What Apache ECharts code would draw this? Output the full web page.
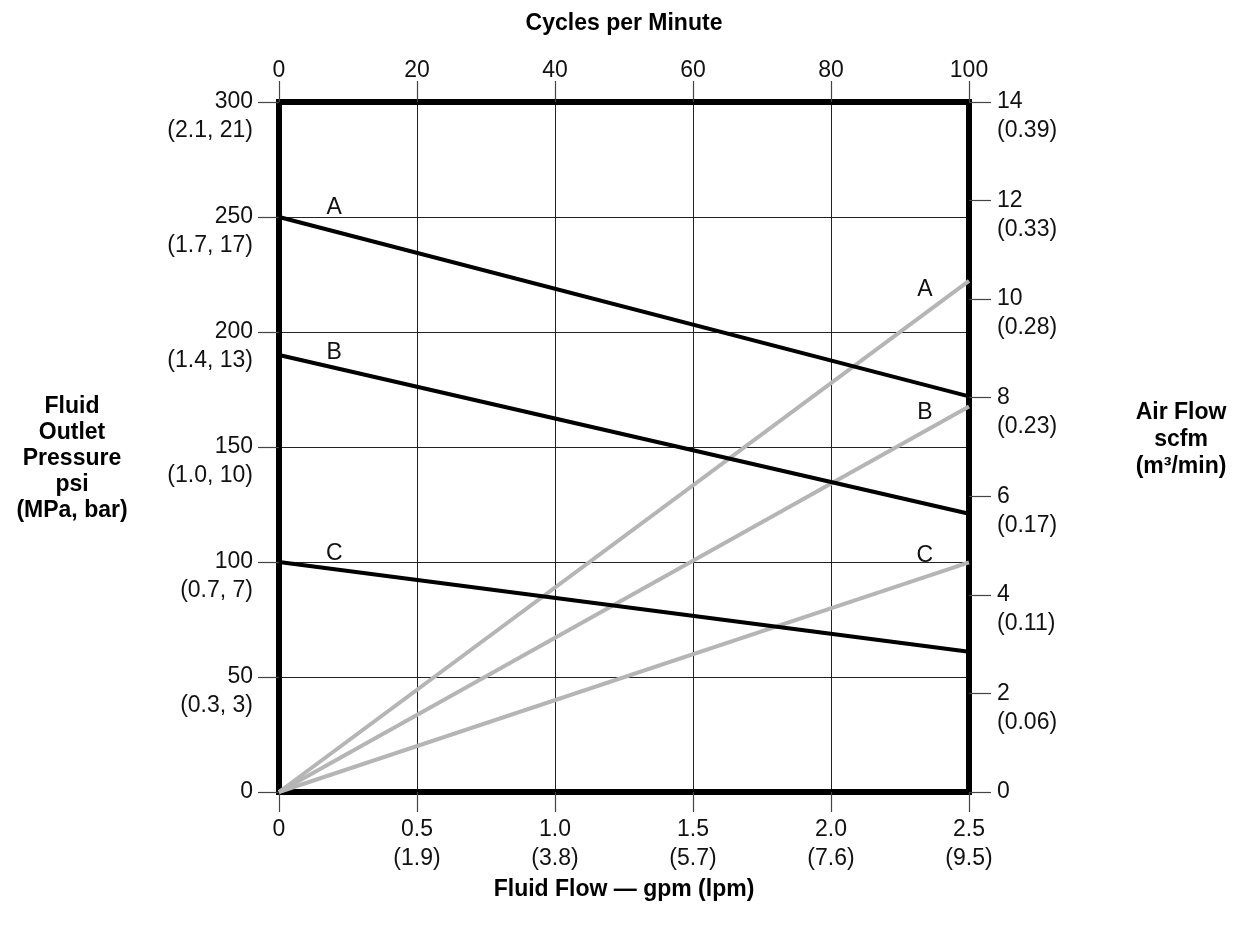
<!DOCTYPE html>
<html>
<head>
<meta charset="utf-8">
<script src="https://cdn.jsdelivr.net/npm/echarts@6/dist/echarts.min.js"></script>
<style>
  html, body { margin: 0; padding: 0; background: #fff; }
  #chart { width: 1241px; height: 929px; }
</style>
</head>
<body>
<div id="chart"></div>
<script>
// bottom axis: fluid flow gpm, metric lpm under it
const gpmTicks = [0, 0.5, 1.0, 1.5, 2.0, 2.5];
const lpmLabels = ['', '(1.9)', '(3.8)', '(5.7)', '(7.6)', '(9.5)'];
// left axis: pressure psi, (MPa, bar) under it
const psiTicks = [0, 50, 100, 150, 200, 250, 300];
const psiMetric = ['', '(0.3, 3)', '(0.7, 7)', '(1.0, 10)', '(1.4, 13)', '(1.7, 17)', '(2.1, 21)'];
// right axis: air flow scfm, m3/min under it
const scfmTicks = [0, 2, 4, 6, 8, 10, 12, 14];
const scfmMetric = ['', '(0.06)', '(0.11)', '(0.17)', '(0.23)', '(0.28)', '(0.33)', '(0.39)'];

// pressure curves (black), [gpm, psi]
const pressA = [[0, 250], [2.5, 172]];
const pressB = [[0, 190], [2.5, 121]];
const pressC = [[0, 100], [2.5, 61]];
// air flow curves (gray), [gpm, scfm]
const airA = [[0, 0], [2.5, 10.37]];
const airB = [[0, 0], [2.5, 7.82]];
const airC = [[0, 0], [2.5, 4.66]];

// curve letters: [name, gpm, value]
const pressLabels = [['A', 0.2, 254], ['B', 0.2, 191], ['C', 0.2, 103.5]];
const airLabels = [['A', 2.34, 10.2], ['B', 2.34, 7.7], ['C', 2.34, 4.8]];

const FONT = "'Liberation Sans', Arial, sans-serif";
let myChart = echarts.init(document.getElementById('chart'));

function tagMarks(list) {
  return {
    symbol: 'circle',
    symbolSize: 0,
    silent: true,
    label: {
      show: true, position: 'inside', formatter: '{b}',
      color: '#111', fontSize: 23, fontFamily: FONT
    },
    data: list.map(d => ({ name: d[0], coord: [d[1], d[2]] }))
  };
}

const frame = { show: true, onZero: false, lineStyle: { color: '#000', width: 6, cap: 'square' } };
const tick = len => ({ show: true, length: len, lineStyle: { color: '#444', width: 1.2 } });
const nameStyle = {
  fontSize: 23, fontWeight: 'bold', color: '#000', fontFamily: FONT,
  align: 'center', verticalAlign: 'middle'
};

myChart.setOption({
  animation: false,
  backgroundColor: '#fff',
  textStyle: { fontFamily: FONT },
  grid: { left: 279, top: 102, width: 690, height: 690 },
  xAxis: [
    {
      type: 'value', position: 'bottom', min: 0, max: 2.5, interval: 0.5,
      axisLine: frame,
      axisTick: tick(20),
      splitLine: { show: true, lineStyle: { color: '#222', width: 1 } },
      axisLabel: {
        margin: 23, color: '#111', fontSize: 23, lineHeight: 29, fontFamily: FONT,
        showMinLabel: true, showMaxLabel: true,
        formatter: v => {
          const i = Math.round(v / 0.5);
          return (v === 0 ? '0' : v.toFixed(1)) + '\n' + (lpmLabels[i] || ' ');
        }
      },
      name: 'Fluid Flow \u2014 gpm (lpm)', nameLocation: 'middle', nameGap: 97,
      nameTextStyle: nameStyle
    },
    {
      type: 'value', position: 'top', min: 0, max: 100, interval: 20,
      axisLine: frame,
      axisTick: tick(21),
      splitLine: { show: false },
      axisLabel: { margin: 20, color: '#111', fontSize: 23, fontFamily: FONT, showMinLabel: true, showMaxLabel: true },
      name: 'Cycles per Minute', nameLocation: 'middle', nameGap: 78,
      nameTextStyle: nameStyle
    }
  ],
  yAxis: [
    {
      type: 'value', position: 'left', min: 0, max: 300, interval: 50,
      axisLine: frame,
      axisTick: tick(21),
      splitLine: { show: true, lineStyle: { color: '#222', width: 1 } },
      axisLabel: {
        margin: 26, color: '#111', fontSize: 23, lineHeight: 29, fontFamily: FONT,
        align: 'right', showMinLabel: true, showMaxLabel: true,
        // blank first line keeps the psi value centred on its tick
        formatter: v => ' \n' + v + '\n' + (psiMetric[Math.round(v / 50)] || ' ')
      },
      name: '{s| }\n{t|Fluid}\n{t|Outlet}\n{t|Pressure}\n{t|psi}\n{t|(MPa, bar)}',
      nameLocation: 'middle', nameGap: 207, nameRotate: 0,
      nameTextStyle: Object.assign({}, nameStyle, {
        rich: { t: { fontSize: 23, fontWeight: 'bold', lineHeight: 26, fontFamily: FONT }, s: { lineHeight: 23 } }
      })
    },
    {
      type: 'value', position: 'right', min: 0, max: 14, interval: 2,
      axisLine: frame,
      axisTick: tick(22),
      splitLine: { show: false },
      axisLabel: {
        margin: 28, color: '#111', fontSize: 23, lineHeight: 29, fontFamily: FONT,
        align: 'left', showMinLabel: true, showMaxLabel: true,
        formatter: v => ' \n' + v + '\n' + (scfmMetric[Math.round(v / 2)] || ' ')
      },
      name: '{t|Air Flow}\n{t|scfm}\n{t|(m\u00b3/min)}\n{s| }',
      nameLocation: 'middle', nameGap: 212, nameRotate: 0,
      nameTextStyle: Object.assign({}, nameStyle, {
        rich: { t: { fontSize: 23, fontWeight: 'bold', lineHeight: 27, fontFamily: FONT }, s: { lineHeight: 15 } }
      })
    }
  ],
  series: [
    { type: 'line', name: 'air A', data: airA, xAxisIndex: 0, yAxisIndex: 1, symbol: 'none',
      lineStyle: { color: '#b5b5b5', width: 4 }, markPoint: tagMarks(airLabels) },
    { type: 'line', name: 'air B', data: airB, xAxisIndex: 0, yAxisIndex: 1, symbol: 'none',
      lineStyle: { color: '#b5b5b5', width: 4 } },
    { type: 'line', name: 'air C', data: airC, xAxisIndex: 0, yAxisIndex: 1, symbol: 'none',
      lineStyle: { color: '#b5b5b5', width: 4 } },
    { type: 'line', name: 'pressure A', data: pressA, xAxisIndex: 0, yAxisIndex: 0, symbol: 'none',
      lineStyle: { color: '#000', width: 4 }, markPoint: tagMarks(pressLabels) },
    { type: 'line', name: 'pressure B', data: pressB, xAxisIndex: 0, yAxisIndex: 0, symbol: 'none',
      lineStyle: { color: '#000', width: 4 } },
    { type: 'line', name: 'pressure C', data: pressC, xAxisIndex: 0, yAxisIndex: 0, symbol: 'none',
      lineStyle: { color: '#000', width: 4 } }
  ]
});
window.addEventListener('resize', function () {
  myChart.resize();
});
</script>
</body>
</html>
